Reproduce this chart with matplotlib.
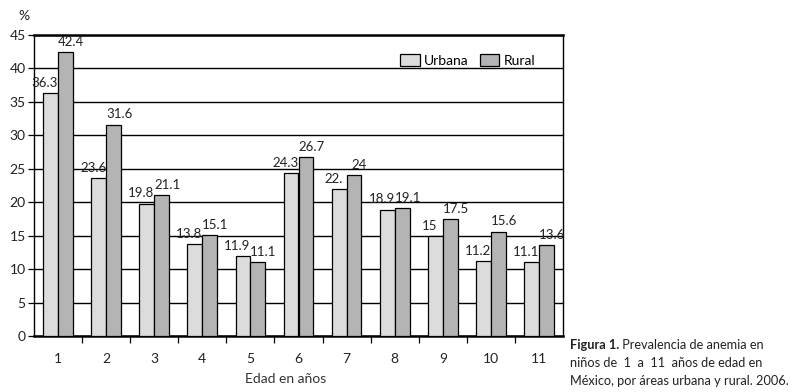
import numpy as np
import matplotlib.pyplot as plt

plt.rcParams['font.family'] = ['Lato', 'DejaVu Sans']

edades = ['1', '2', '3', '4', '5', '6', '7', '8', '9', '10', '11']
urbana = [36.3, 23.6, 19.8, 13.8, 11.9, 24.3, 22.0, 18.9, 15, 11.2, 11.1]
rural = [42.4, 31.6, 21.1, 15.1, 11.1, 26.7, 24, 19.1, 17.5, 15.6, 13.6]
urbana_txt = ['36.3', '23.6', '19.8', '13.8', '11.9', '24.3', '22.', '18.9', '15', '11.2', '11.1']
rural_txt = ['42.4', '31.6', '21.1', '15.1', '11.1', '26.7', '24', '19.1', '17.5', '15.6', '13.6']

fig = plt.figure(figsize=(7.93, 3.92), dpi=100)
ax = fig.add_axes([34/793, 56/392, 529/793, 301/392])

x = np.arange(len(edades))
w = 0.31
ax.bar(x - w/2, urbana, w, color='#dcdcdc', edgecolor='black', linewidth=0.9, label='Urbana', zorder=3)
ax.bar(x + w/2, rural, w, color='#b4b4b6', edgecolor='black', linewidth=0.9, label='Rural', zorder=3)

lbl = dict(textcoords='offset points', ha='center', va='bottom', fontsize=9.5,
           color='#222222', zorder=4)
for i in range(len(x)):
    ax.annotate(urbana_txt[i], (x[i] - w/2, urbana[i]), xytext=(-4, 3), **lbl)
    ax.annotate(rural_txt[i], (x[i] + w/2, rural[i]), xytext=(4, 3), **lbl)

ax.set_xlim(-0.5, len(x) - 0.5)
ax.set_ylim(0, 45)
ax.set_yticks(np.arange(0, 50, 5))
ax.yaxis.grid(True, color='black', linewidth=1.0)
ax.set_axisbelow(True)

ax.set_xticks(x)
ax.set_xticklabels(edades)
ax.set_xticks(x[:-1] + 0.5, minor=True)
ax.tick_params(axis='x', which='major', length=0, pad=12, labelsize=10, colors='#222222')
ax.tick_params(axis='x', which='minor', length=5, direction='out', width=0.9)
ax.tick_params(axis='y', length=4, width=0.9, labelsize=10, pad=2, colors='#222222')
ax.tick_params(axis='both', which='both', color='black')

for s in ax.spines.values():
    s.set_linewidth(1.0)
ax.spines['top'].set_linewidth(1.8)
ax.spines['bottom'].set_linewidth(1.8)

ax.legend(loc='center', bbox_to_anchor=(0.82, 0.915), ncol=2, frameon=False, fontsize=10,
          handlelength=1.4, handleheight=0.9, columnspacing=0.8, handletextpad=0.3)

fig.text(18/793, 1 - 16/392, '%', fontsize=10, ha='left', va='center', color='#222222')
fig.text(286/793, 1 - 379/392, 'Edad en años', fontsize=10, ha='center', va='center', color='#333333')

# caption to the right of the plot
cap = dict(fontsize=9.2, color='#222222')
t1 = fig.text(570/793, 1 - 349/392, 'Figura 1.', fontweight='bold', ha='left', va='baseline', **cap)
ax.annotate(' Prevalencia de anemia en', xy=(1, 0), xycoords=t1, ha='left', va='bottom', **cap)
fig.text(570/793, 1 - 367/392, 'niños de  1  a  11  años de edad en', ha='left', va='baseline', **cap)
fig.text(570/793, 1 - 385/392, 'México, por áreas urbana y rural. 2006.', ha='left', va='baseline', **cap)

plt.savefig('out.png', dpi=100)
